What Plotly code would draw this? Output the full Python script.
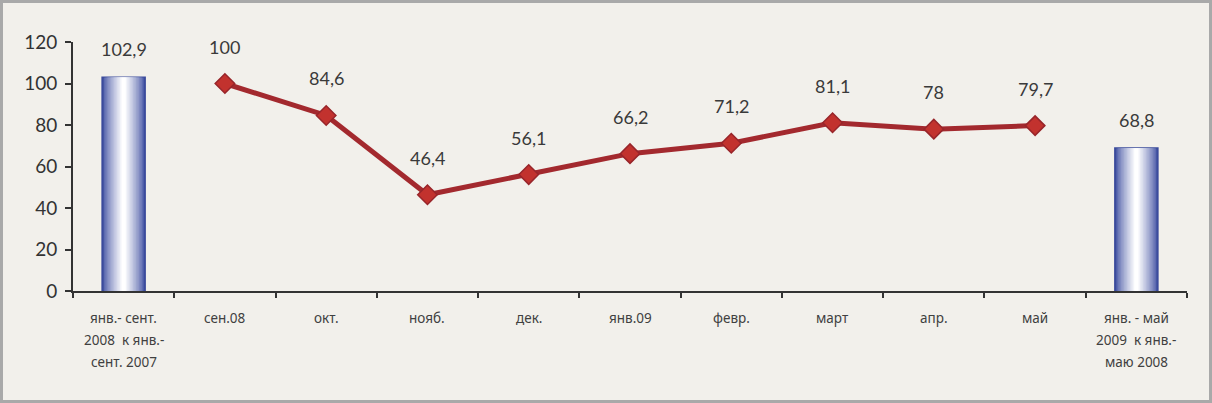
import plotly.graph_objects as go

categories = [
    "янв.- сент.<br>2008  к янв.-<br>сент. 2007",
    "сен.08", "окт.", "нояб.", "дек.", "янв.09", "февр.", "март", "апр.", "май",
    "янв. - май<br>2009  к янв.-<br>маю 2008",
]
bar_cats = [categories[0], categories[-1]]
bar_values = [102.9, 68.8]
line_cats = categories[1:10]
line_values = [100, 84.6, 46.4, 56.1, 66.2, 71.2, 81.1, 78, 79.7]
y_ticks = [0, 20, 40, 60, 80, 100, 120]

def fmt(v):
    return f"{v:g}".replace(".", ",")

W, H = 1212, 403
ml, mr, mt, mb = 73, 25, 42, 112
pw, ph = W - ml - mr, H - mt - mb

fig = go.Figure()

# gradient-like bars via stacked overlay layers
edge = (70, 86, 165)
n = 14
base_w = 0.42
for i in range(n):
    t = i / (n - 1)
    c = tuple(int(edge[k] + (255 - edge[k]) * (t ** 0.8)) for k in range(3))
    w = base_w * (1 - t * 0.9)
    fig.add_trace(go.Bar(
        x=bar_cats, y=bar_values, width=w,
        marker=dict(color=f"rgb{c}",
                    line=dict(color="#3B4B9C" if i == 0 else f"rgb{c}", width=2 if i == 0 else 0)),
        hoverinfo="skip", showlegend=False,
    ))

fig.add_trace(go.Scatter(
    x=line_cats, y=line_values, mode="lines+markers",
    line=dict(color="#A3292E", width=5),
    marker=dict(symbol="diamond", size=15, color="#C2322E", line=dict(color="#98252A", width=1.5)),
    showlegend=False,
))

font_num = "Lato, 'Noto Sans', sans-serif"
for c, v in zip(line_cats, line_values):
    fig.add_annotation(x=c, y=v, text=fmt(v), showarrow=False, yshift=37,
                       font=dict(family=font_num, size=18, color="#3A3A3A"))
for c, v in zip(bar_cats, bar_values):
    fig.add_annotation(x=c, y=v, text=fmt(v), showarrow=False, yshift=28,
                       font=dict(family=font_num, size=18, color="#3A3A3A"))

# category labels, one annotation per line for wider line spacing
for c in categories:
    for k, part in enumerate(c.split("<br>")):
        fig.add_annotation(x=c, y=0, text=part, showarrow=False, yshift=-27 - 22 * k,
                           font=dict(family="'Noto Sans', sans-serif", size=13.5, color="#404040"))

fig.add_shape(type="rect", xref="paper", yref="paper",
              x0=-(ml - 1.5) / pw, x1=1 + (mr - 1.5) / pw,
              y0=-(mb - 1.5) / ph, y1=1 + (mt - 1.5) / ph,
              line=dict(color="#A9A9A9", width=3), layer="below")

fig.update_layout(
    width=W, height=H,
    margin=dict(l=ml, r=mr, t=mt, b=mb, autoexpand=False),
    paper_bgcolor="#F2F0EB", plot_bgcolor="rgba(0,0,0,0)",
    barmode="overlay",
    xaxis=dict(type="category", categoryorder="array", categoryarray=categories,
               range=[-0.5, 10.5], tickson="boundaries", ticks="outside", ticklen=5,
               tickwidth=2, tickcolor="#333333", showline=True, linecolor="#333333",
               linewidth=2, showgrid=False, zeroline=False, showticklabels=False,
               automargin=False),
    yaxis=dict(range=[0, 120], tickvals=y_ticks, ticks="outside", ticklen=6,
               tickwidth=2, tickcolor="#333333", showline=True, linecolor="#333333",
               linewidth=2, showgrid=False, zeroline=False, automargin=False,
               ticklabelstandoff=4,
               tickfont=dict(family=font_num, size=19, color="#333333")),
    xaxis2=dict(overlaying="x", anchor="y", side="bottom", range=[-0.5, 10.5],
                tickvals=[i - 0.5 for i in range(12)], ticks="inside", ticklen=5,
                tickwidth=2, tickcolor="#333333", showticklabels=False,
                showline=False, showgrid=False, zeroline=False),
    yaxis2=dict(overlaying="y", anchor="x", side="left", range=[0, 120],
                tickvals=y_ticks, ticks="inside", ticklen=7, tickwidth=2,
                tickcolor="#333333", showticklabels=False, showline=False,
                showgrid=False, zeroline=False),
)

fig.write_html("out.html", config={"displayModeBar": False},
               post_script="document.body.style.margin='0';")
